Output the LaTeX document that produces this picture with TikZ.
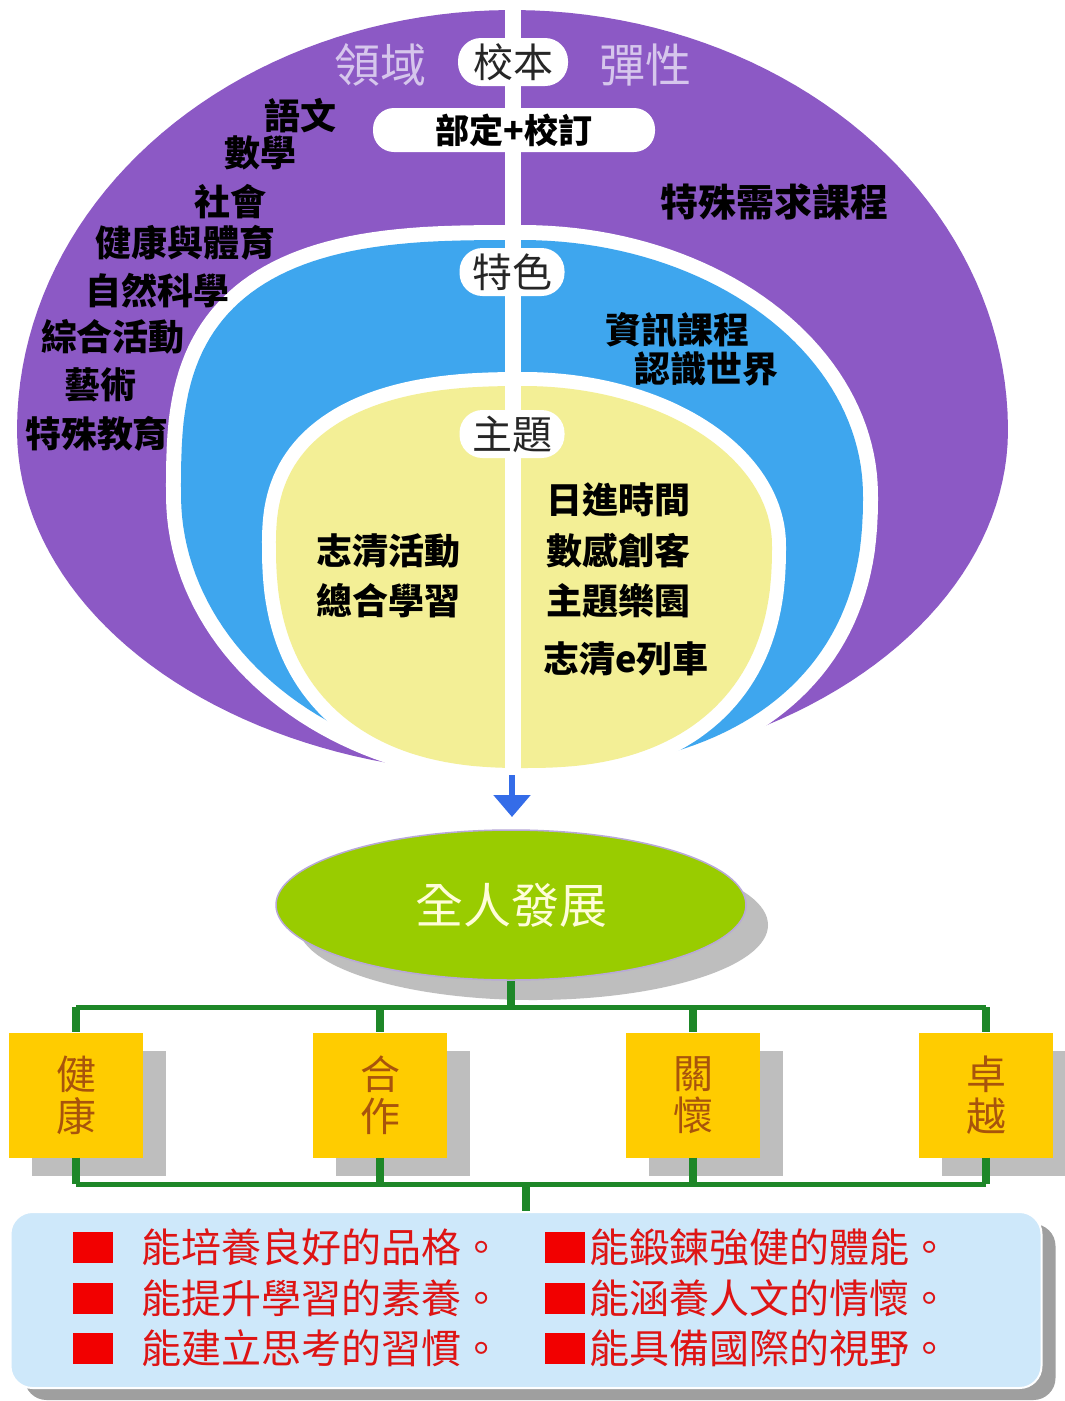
\documentclass[tikz,border=0pt]{standalone}
\usepackage{fontspec}
\setmainfont{Noto Sans CJK TC}
\usepackage{xcolor}
\usepackage{tikz}
\usetikzlibrary{arrows.meta, positioning, shapes, shadows}

\definecolor{ringpurple}{RGB}{140,89,197}
\definecolor{ringblue}{RGB}{62,166,238}
\definecolor{ringyellow}{RGB}{243,239,150}
\definecolor{lavtext}{RGB}{214,198,236}
\definecolor{leafgreen}{RGB}{153,204,0}
\definecolor{leafedge}{RGB}{184,168,216}
\definecolor{treegreen}{RGB}{30,135,40}
\definecolor{boxgold}{RGB}{255,204,0}
\definecolor{boxbrown}{RGB}{168,84,12}
\definecolor{goalblue}{RGB}{206,232,250}
\definecolor{goalred}{RGB}{222,20,20}
\definecolor{arrowblue}{RGB}{52,108,232}
\definecolor{shadowgray}{RGB}{190,190,190}

\newcommand{\fsz}[1]{\fontsize{#1}{#1}\selectfont}
% egg outline: cx, cy, left rx, right rx, upper ry, lower ry, exponents upper-left, lower-right, lower-left
\newcommand{\egg}[9]{
	plot[domain=180.5:269.5, samples=45, variable=\t] ({#1-#3*abs(cos(\t))^(#7)}, {#2-#5*abs(sin(\t))^(#7)})
	-- plot[domain=270.5:359.5, samples=45, variable=\t] ({#1+#4*abs(cos(\t))}, {#2-#5*abs(sin(\t))})
	-- plot[domain=0.5:89.5, samples=45, variable=\t] ({#1+#4*abs(cos(\t))^(#8)}, {#2+#6*abs(sin(\t))^(#8)})
	-- plot[domain=90.5:179.5, samples=45, variable=\t] ({#1-#3*abs(cos(\t))^(#9)}, {#2+#6*abs(sin(\t))^(#9)})
	-- cycle}

\begin{document}
\begin{tikzpicture}[x=1pt, y=-1pt, >=latex]
		\tikzstyle{pill} = [fill=white, rounded corners=23pt, minimum height=48pt, inner sep=0pt, text=black!85, font=\fsz{40}]
		\tikzstyle{subject} = [inner sep=0pt, text=black, font=\fsz{36}\bfseries]
		\tikzstyle{realm} = [inner sep=0pt, text=lavtext, font=\fsz{46}]
		\tikzstyle{whole} = [ellipse, fill=leafgreen, draw=leafedge, line width=1.5pt, minimum width=470pt, minimum height=150pt, inner sep=0pt, text={yellow!15}, font=\fsz{48},
			drop shadow={shadow xshift=22pt, shadow yshift=-20pt, fill=shadowgray, opacity=1}]
		\tikzstyle{valuebox} = [rectangle, fill=boxgold, minimum width=134pt, minimum height=125pt, inner sep=0pt, align=center, text=boxbrown, font=\fontsize{40}{42}\selectfont,
			drop shadow={shadow xshift=23pt, shadow yshift=-18pt, fill=shadowgray, opacity=1}]
		\tikzstyle{goalbox} = [rectangle, rounded corners=22pt, fill=goalblue, draw=white, line width=2pt, minimum width=1031pt, minimum height=176pt,
			drop shadow={shadow xshift=14pt, shadow yshift=-12pt, fill=gray!75, opacity=1}]
		\tikzstyle{redsq} = [rectangle, fill=red!95!black, minimum width=40pt, minimum height=31pt, inner sep=0pt]
		\tikzstyle{goaltext} = [inner sep=0pt, anchor=west, text=goalred, font=\fsz{40}]
		\tikzstyle{stub} = [treegreen, line width=8pt]
		\tikzstyle{bus} = [treegreen, line width=5pt]
		\tikzstyle{bluearrow} = [arrowblue, line width=6pt, -{Triangle[length=22pt, width=36pt]}]
		\tikzstyle{gap} = [fill=white, draw=white]

		\fill[white] (0,0) rectangle (1065,1401);
		\useasboundingbox (0,0) rectangle (1065,1401);

		\fill[ringpurple] \egg{512}{430}{495}{496}{420}{344}{1}{1}{1};
		\path[gap, line width=30pt] \egg{522}{495}{341}{341}{255}{275}{0.667}{0.85}{1};
		\fill[ringblue] \egg{522}{495}{341}{341}{255}{275}{0.667}{0.85}{1};
		\path[gap, line width=28pt] \egg{524}{545}{248}{248}{159}{223}{0.8}{0.833}{0.833};
		\fill[ringyellow] \egg{524}{545}{248}{248}{159}{223}{0.8}{0.833}{0.833};

		\coordinate (divtop) at (513,0);
		\coordinate (divbot) at (513,776);
		\draw[white, line width=16pt] (divtop) -- (divbot);

		\node[realm]	at (380,65)		(lingyu)	{領域};
		\node[realm]	at (645,65)		(tanxing)	{彈性};
		\node[pill, minimum width=110pt]	at (513,62)		(xiaoben)	{校本};
		\node[pill, minimum width=282pt, minimum height=44pt, rounded corners=21pt, font=\fsz{34}\bfseries, text=black]	at (514,130)	(buding)	{部定+校訂};
		\node[pill, minimum width=105pt]	at (512,272)	(tese)		{特色};
		\node[pill, minimum width=105pt]	at (512,434)	(zhuti)		{主題};

		\node[subject]	at (300,116)	(yuwen)		{語文};
		\node[subject]	at (260,153)	(shuxue)	{數學};
		\node[subject]	at (230,202)	(shehui)	{社會};
		\node[subject]	at (185,243)	(jiankang)	{健康與體育};
		\node[subject]	at (157,291)	(ziran)		{自然科學};
		\node[subject]	at (113,337)	(zonghe)	{綜合活動};
		\node[subject]	at (100,385)	(yishu)		{藝術};
		\node[subject]	at (97,434)		(tejiao)	{特殊教育};
		\node[subject, font=\fsz{38}\bfseries]	at (774,202)	(texu)		{特殊需求課程};
		\node[subject]	at (677,330)	(zixun)		{資訊課程};
		\node[subject]	at (706,369)	(renshi)	{認識世界};
		\node[subject]	at (388,551)	(zhiqing)	{志清活動};
		\node[subject]	at (388,601)	(zongxue)	{總合學習};
		\node[subject]	at (618,500)	(rijin)		{日進時間};
		\node[subject]	at (618,551)	(shugan)	{數感創客};
		\node[subject]	at (618,601)	(leyuan)	{主題樂園};
		\node[subject]	at (626,659)	(lieche)	{志清e列車};

		\coordinate (arrtop) at (512,775);
		\coordinate (arrtip) at (512,817);
		\draw[bluearrow] (arrtop) -- (arrtip);

		\node[whole]	at (511,905)	(whole)	{全人發展};

		\node[valuebox]	at (76,1095)	(jk)	{健\\康};
		\node[valuebox]	at (380,1095)	(hz)	{合\\作};
		\node[valuebox]	at (693,1095)	(gh)	{關\\懷};
		\node[valuebox]	at (986,1095)	(zy)	{卓\\越};

		\node[goalbox]	at (526,1300)	(goal)	{};

		\coordinate (topbus) at (511,1007);
		\coordinate (botbus) at (526,1184);
		\draw[stub] (whole.south) -- (topbus);
		\draw[bus] (jk.north |- topbus) -- (zy.north |- topbus);
		\draw[bus] (jk.south |- botbus) -- (zy.south |- botbus);
		\foreach \b in {jk, hz, gh, zy} {
			\draw[stub] (\b.north |- topbus) -- (\b.north);
			\draw[stub] (\b.south) -- (\b.south |- botbus);
		}
		\draw[stub] (botbus) -- (goal.north);

		\node[redsq]	at (93,1247)	(sqa)	{};
		\node[redsq]	at (93,1298)	(sqb)	{};
		\node[redsq]	at (93,1348)	(sqc)	{};
		\node[redsq]	at (565,1247)	(sqd)	{};
		\node[redsq]	at (565,1298)	(sqe)	{};
		\node[redsq]	at (565,1348)	(sqf)	{};
		\node[goaltext]	at (141,1247)	(ga)	{能培養良好的品格。};
		\node[goaltext]	at (141,1298)	(gb)	{能提升學習的素養。};
		\node[goaltext]	at (141,1348)	(gc)	{能建立思考的習慣。};
		\node[goaltext]	at (589,1247)	(gd)	{能鍛鍊強健的體能。};
		\node[goaltext]	at (589,1298)	(ge)	{能涵養人文的情懷。};
		\node[goaltext]	at (589,1348)	(gf)	{能具備國際的視野。};
	\end{tikzpicture}
\end{document}
